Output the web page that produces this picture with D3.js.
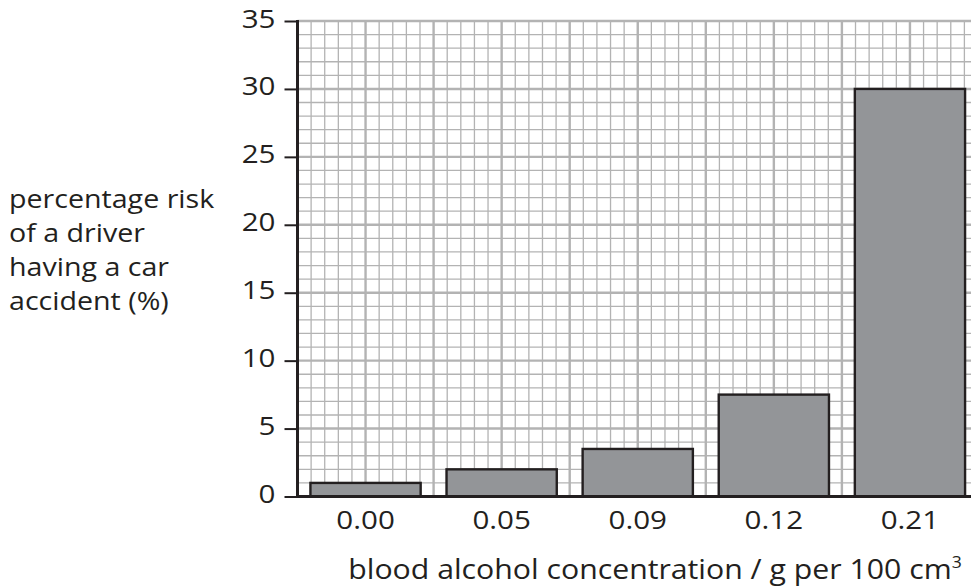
<!DOCTYPE html>
<html>
<head>
<meta charset="utf-8">
<script src="https://cdn.jsdelivr.net/npm/d3@7"></script>
<style>
  html, body { margin: 0; padding: 0; background: #ffffff; }
  svg { display: block; }
  text { font-family: "Open Sans", "Noto Sans", sans-serif; fill: #231f20; }
</style>
</head>
<body>
<svg id="chart" width="971" height="587"></svg>
<script>
// ---- data ----
const categories = ["0.00", "0.05", "0.09", "0.12", "0.21"];
const riskValues = [1, 2, 3.5, 7.5, 30];
const yTicks = [0, 5, 10, 15, 20, 25, 30, 35];
const yTitleLines = ["percentage risk", "of a driver", "having a car", "accident (%)"];
const xTitle = "blood alcohol concentration / g per 100 cm";
const xTitleSup = "3";

// ---- layout ----
const W = 971, H = 587;
const plotLeft = 297.5, plotTop = 21, plotBottom = 496.5;
const cell = 13.61;              // grid square size in px
const gridCols = 49.5;           // grid extends to right edge
const tickSx = 1.16;             // horizontal widening of glyphs (ref font is wide)

const svg = d3.select("#chart");

const y = d3.scaleLinear().domain([0, 35]).range([plotBottom, plotTop]);
const xg = d3.scaleLinear().domain([0, gridCols]).range([plotLeft, plotLeft + gridCols * cell]);
const x = d3.scaleBand()
  .domain(categories)
  .range([plotLeft, plotLeft + 50 * cell])
  .paddingInner(0.19)
  .paddingOuter(0.095);

// ---- grid ----
const grid = svg.append("g");
const hLines = d3.range(0, 36);
grid.selectAll("line.h").data(hLines).join("line")
  .attr("class", "h")
  .attr("x1", plotLeft).attr("x2", W)
  .attr("y1", d => y(d)).attr("y2", d => y(d))
  .attr("stroke", "#b3b3b3")
  .attr("stroke-width", d => d % 5 === 0 ? 2.4 : 1.3);
const vLines = d3.range(1, 50);
grid.selectAll("line.v").data(vLines).join("line")
  .attr("class", "v")
  .attr("x1", d => xg(d)).attr("x2", d => xg(d))
  .attr("y1", plotTop).attr("y2", plotBottom)
  .attr("stroke", "#b3b3b3")
  .attr("stroke-width", d => d % 5 === 0 ? 2.4 : 1.3);

// ---- bars ----
svg.append("g").selectAll("rect").data(categories).join("rect")
  .attr("x", d => x(d))
  .attr("width", x.bandwidth())
  .attr("y", (d, i) => y(riskValues[i]))
  .attr("height", (d, i) => y(0) - y(riskValues[i]))
  .attr("fill", "#939598")
  .attr("stroke", "#231f20")
  .attr("stroke-width", 2.4);

// ---- axes ----
const yAxis = d3.axisLeft(y).tickValues(yTicks).tickSize(13).tickFormat(d3.format("d"));
const yAx = svg.append("g").attr("transform", `translate(${plotLeft},0)`).call(yAxis);
yAx.select(".domain").remove();
yAx.selectAll(".tick line").attr("stroke", "#231f20").attr("stroke-width", 2);
yAx.selectAll(".tick text")
  .attr("font-size", 25.5).attr("font-family", "Open Sans").attr("fill", "#231f20")
  .attr("text-anchor", "end")
  .attr("x", -22 / tickSx).attr("dy", 6)
  .attr("transform", `scale(${tickSx},1)`);

const xAxis = d3.axisBottom(x).tickSize(0);
const xAx = svg.append("g").attr("transform", `translate(0,${plotBottom})`).call(xAxis);
xAx.select(".domain").remove();
xAx.selectAll(".tick text")
  .attr("font-size", 25.5).attr("font-family", "Open Sans").attr("fill", "#231f20")
  .attr("y", 32.5).attr("dy", 0)
  .attr("transform", `scale(${tickSx},1)`);

// axis lines
svg.append("line").attr("x1", plotLeft).attr("x2", plotLeft).attr("y1", plotTop - 1).attr("y2", plotBottom + 1.5)
  .attr("stroke", "#231f20").attr("stroke-width", 3);
svg.append("line").attr("x1", plotLeft - 1.5).attr("x2", W).attr("y1", plotBottom).attr("y2", plotBottom)
  .attr("stroke", "#231f20").attr("stroke-width", 3);

// ---- titles ----
const xt = svg.append("text")
  .attr("transform", "translate(655,579) scale(1.1,1)")
  .attr("text-anchor", "middle")
  .attr("font-size", 27.5);
xt.append("tspan").text(xTitle);
xt.append("tspan").text(xTitleSup).attr("font-size", 16).attr("dy", -11);

svg.append("g").selectAll("text").data(yTitleLines).join("text")
  .attr("transform", (d, i) => `translate(9,${208 + i * 34}) scale(1.1,1)`)
  .attr("font-size", 26)
  .text(d => d);
</script>
</body>
</html>
